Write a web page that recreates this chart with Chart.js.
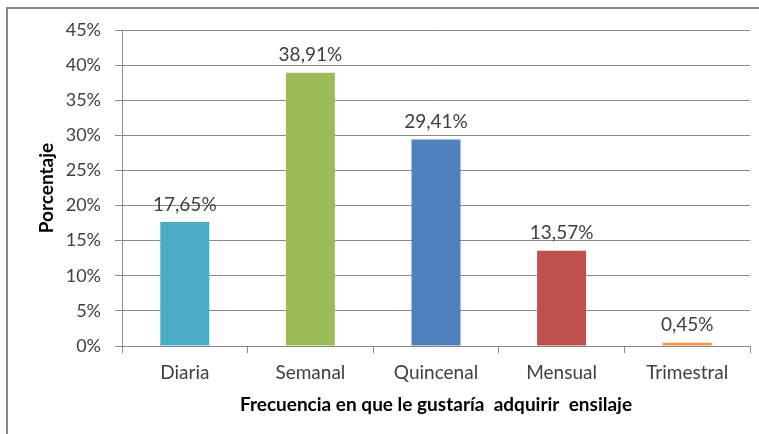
<!DOCTYPE html>
<html>
<head>
<meta charset="utf-8">
<script src="https://cdn.jsdelivr.net/npm/chart.js@4"></script>
<style>
  body { margin: 0; background: #fff; }
  #wrap { position: relative; width: 759px; height: 434px; }
  #frame { position: absolute; left: 6px; top: 7px; right: -10px; bottom: -10px;
           border-left: 2px solid #8a8a8a; border-top: 2px solid #8a8a8a; }
</style>
</head>
<body>
<div id="wrap">
  <canvas id="chart" width="759" height="434"></canvas>
  <div id="frame"></div>
</div>
<script>
// Datos del gráfico
const categorias = ['Diaria', 'Semanal', 'Quincenal', 'Mensual', 'Trimestral'];
const porcentajes = [17.65, 38.91, 29.41, 13.57, 0.45];
const colores = ['#4BACC6', '#9BBB59', '#4F81BD', '#C0504D', '#F79646'];
const ticksY = [0, 5, 10, 15, 20, 25, 30, 35, 40, 45];

const fuente = 'Lato, "Open Sans", sans-serif';
const gris = '#8a8a8a';

// Etiquetas encima de cada barra
const etiquetas = {
  id: 'etiquetas',
  afterDatasetsDraw(chart) {
    const ctx = chart.ctx;
    const meta = chart.getDatasetMeta(0);
    ctx.save();
    ctx.font = '19px ' + fuente;
    ctx.fillStyle = '#404040';
    ctx.textAlign = 'center';
    ctx.textBaseline = 'bottom';
    meta.data.forEach((bar, i) => {
      const txt = porcentajes[i].toFixed(2).replace('.', ',') + '%';
      ctx.fillText(txt, bar.x, bar.y - 8);
    });
    ctx.restore();
  }
};

const ctx = document.getElementById('chart').getContext('2d');
new Chart(ctx, {
  type: 'bar',
  data: {
    labels: categorias,
    datasets: [{
      data: porcentajes,
      backgroundColor: colores,
      borderWidth: 0,
      barPercentage: 0.39,
      categoryPercentage: 1
    }]
  },
  options: {
    responsive: false,
    animation: false,
    layout: { padding: { left: 31, right: 9, top: 30, bottom: 14 } },
    plugins: {
      legend: { display: false },
      tooltip: { enabled: false }
    },
    scales: {
      x: {
        grid: { drawOnChartArea: false, offset: true, color: gris, tickLength: 7 },
        border: { color: gris },
        ticks: { color: '#404040', font: { family: fuente, size: 19 }, padding: 8 },
        title: {
          display: true,
          text: 'Frecuencia en que le gustaría  adquirir  ensilaje',
          color: '#000',
          font: { family: fuente, size: 19, weight: 'bold' }
        },
        afterFit(scale) { scale.height = 434 - 346 - 14; }
      },
      y: {
        min: 0,
        max: 45,
        afterBuildTicks(scale) { scale.ticks = ticksY.map(v => ({ value: v })); },
        grid: { color: gris, tickLength: 7 },
        border: { color: gris },
        ticks: {
          color: '#404040',
          font: { family: fuente, size: 18 },
          padding: 14,
          callback: v => v + '%'
        },
        title: {
          display: true,
          text: 'Porcentaje',
          color: '#000',
          font: { family: fuente, size: 19, weight: 'bold' }
        },
        afterFit(scale) { scale.width = 122 - 31; }
      }
    }
  },
  plugins: [etiquetas]
});
</script>
</body>
</html>
